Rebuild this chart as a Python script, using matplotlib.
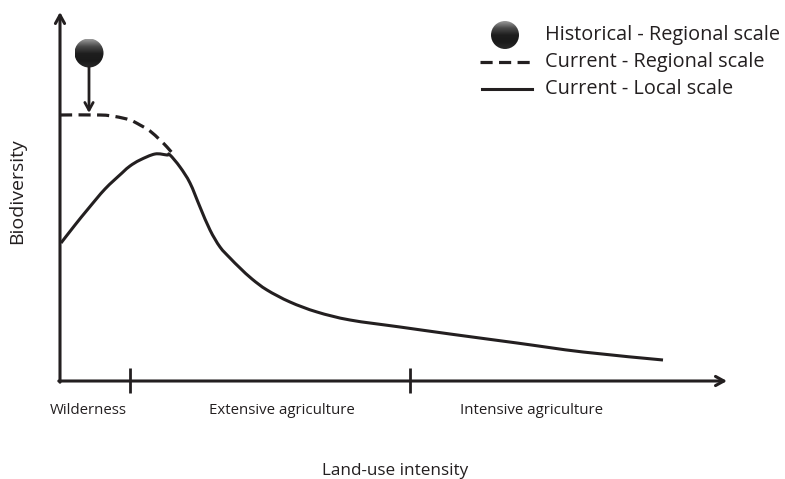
import matplotlib
matplotlib.use("Agg")
import matplotlib.pyplot as plt
import numpy as np
from matplotlib.patches import Circle, PathPatch
from matplotlib.path import Path
from matplotlib.colors import LinearSegmentedColormap

# ---- data (x: land-use intensity units, y: biodiversity units) ----
local_x = [1, 15, 28, 45, 62, 70, 80, 95, 107, 110, 120, 130, 140, 150, 160, 170, 180, 192, 207, 230, 257, 290, 340, 390, 457, 523, 603]
local_y = [138, 156, 172, 192, 208, 215, 221, 227, 226, 226, 214, 198, 174, 151, 134, 123, 113, 102, 91, 79, 69, 61, 54, 47, 38, 29, 21]
regional_x = [0, 40, 55, 70, 80, 90, 100, 107, 113]
regional_y = [266, 266, 264.5, 261, 256, 250, 241, 234, 227]
historical_x = [29]
historical_y = [328]
zone_bounds = [70, 350]
zone_labels = ["Wilderness", "Extensive agriculture", "Intensive agriculture"]
zone_label_x = [28, 222, 472]
legend_labels = ["Historical - Regional scale", "Current - Regional scale", "Current - Local scale"]

INK = "#231f20"
FONT = ["Open Sans", "DejaVu Sans"]

fig = plt.figure(figsize=(7.85, 4.79), dpi=100)
ax = fig.add_axes([0, 0, 1, 1])
ax.axis("off")


def smooth_path(xs, ys):
    pts = np.column_stack([xs, ys]).astype(float)
    verts = [pts[0]]
    codes = [Path.MOVETO]
    n = len(pts)
    for i in range(n - 1):
        p0 = pts[i - 1] if i > 0 else pts[i]
        p1 = pts[i]
        p2 = pts[i + 1]
        p3 = pts[i + 2] if i + 2 < n else pts[i + 1]
        verts += [p1 + (p2 - p0) / 6.0, p2 - (p3 - p1) / 6.0, p2]
        codes += [Path.CURVE4] * 3
    return Path(verts, codes)


def ball(cx, cy, r):
    grad = np.linspace(0, 1, 100).reshape(-1, 1)
    cmap = LinearSegmentedColormap.from_list("b", ["#9a9a9a", "#4a4a4a", "#1e1e1e", "#1a1a1a", "#2a2a2a"])
    im = ax.imshow(grad, extent=(cx - r, cx + r, cy - r, cy + r), cmap=cmap,
                   origin="upper", aspect="auto", zorder=3, interpolation="bilinear")
    c = Circle((cx, cy), r, transform=ax.transData, facecolor="none", edgecolor="none")
    ax.add_patch(c)
    im.set_clip_path(c)


# axes arrows
arrow_kw = dict(arrowstyle="->,head_length=0.6,head_width=0.33", lw=2.2, color=INK, shrinkA=0, shrinkB=0)
ax.annotate("", xy=(667, 0), xytext=(-1.2, 0), arrowprops=arrow_kw)
ax.annotate("", xy=(0, 369), xytext=(0, -1.2), arrowprops=arrow_kw)
for b in zone_bounds:
    ax.plot([b, b], [-12, 13], color=INK, lw=2.0, solid_capstyle="butt")

# curves
ax.add_patch(PathPatch(smooth_path(regional_x, regional_y), fill=False, edgecolor=INK,
                       lw=2.3, linestyle=(0, (3.8, 2.0)), capstyle="butt"))
ax.add_patch(PathPatch(smooth_path(local_x, local_y), fill=False, edgecolor=INK, lw=2.2))

# historical point and arrow
ball(historical_x[0], historical_y[0], 14.5)
ax.annotate("", xy=(historical_x[0], 268), xytext=(historical_x[0], historical_y[0] - 14),
            arrowprops=dict(arrowstyle="->,head_length=0.55,head_width=0.3", lw=2.0, color=INK,
                            shrinkA=0, shrinkB=0))

# zone labels
for lx, lab in zip(zone_label_x, zone_labels):
    ax.text(lx, -29, lab, ha="center", va="center", fontsize=10.8, color=INK, family=FONT)

ax.text(335, -90, "Land-use intensity", ha="center", va="center", fontsize=12.3, color=INK, family=FONT)
ax.text(-43, 190, "Biodiversity", ha="center", va="center", rotation=90, fontsize=14, color=INK, family=FONT)

# legend
ball(445, 346, 14)
ax.plot([420, 470], [319, 319], color=INK, lw=2.3, dashes=(3.8, 2.0))
ax.plot([422, 472], [292, 292], color=INK, lw=2.2)
for t, yy in zip(legend_labels, [346, 319, 292]):
    ax.text(485, yy, t, ha="left", va="center", fontsize=14.3, color=INK, family=FONT)

ax.set_xlim(-60, 725)
ax.set_ylim(-98, 381)
fig.savefig("out.png", dpi=100)
